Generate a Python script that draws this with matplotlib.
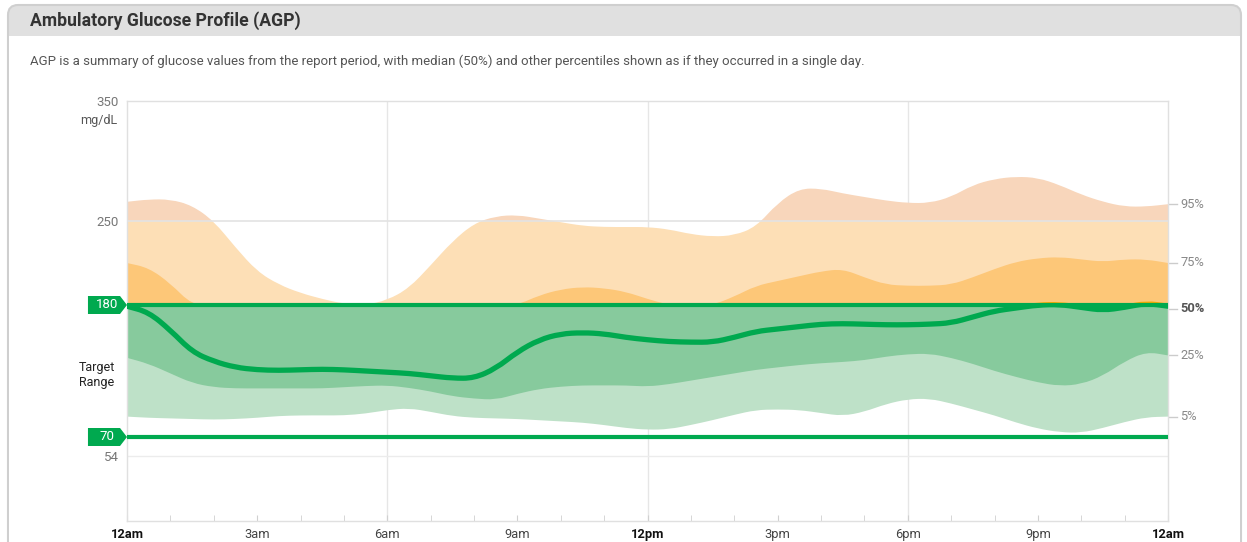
import numpy as np
import matplotlib.pyplot as plt
from matplotlib.patches import Rectangle, Polygon, FancyBboxPatch, PathPatch
from matplotlib.path import Path
from matplotlib.transforms import IdentityTransform

plt.rcParams['font.family'] = ['Roboto', 'DejaVu Sans']

# half-hour bins over one day (hours since midnight)
hours = np.arange(0, 24.5, 0.5)

p95 = [266, 268, 268, 263, 250, 228, 208, 197, 190, 185, 181, 180, 184, 194, 213, 233,
       248, 254, 255, 252, 249, 246, 245, 245, 245, 243, 239, 237, 238, 245, 265, 277,
       277, 273, 270, 267, 265, 265, 270, 280, 285, 287, 286, 280, 272, 266, 262, 262, 264]
p75 = [215, 211, 198, 180, 180, 180, 180, 180, 180, 180, 180, 180, 180, 180, 180, 180,
       180, 180, 180, 188, 193, 195, 194, 191, 185, 180, 180, 180, 187, 196, 200, 204,
       208, 210, 203, 197, 196, 196, 197, 203, 210, 216, 219, 220, 218, 216, 218, 218, 215]
p50 = [179, 174, 159, 141, 133, 128, 126, 125.5, 126, 126.5, 126, 125, 124, 123, 121, 119,
       119, 127, 141, 151, 156, 157, 156, 153, 151, 149.5, 149, 149, 153, 158, 160, 162,
       164, 164.5, 164, 163.5, 163.5, 164, 165, 170, 175, 177.5, 180, 180.5, 178, 175.5,
       178, 181.5, 179]
p25 = [136, 131, 123, 115, 111.5, 110.5, 110.5, 110.5, 110.5, 110.5, 111.5, 112.5, 113, 111,
       108, 104, 102, 101, 106, 110, 112, 113, 113, 113, 112, 114, 117, 120, 123, 126, 128,
       130, 131.5, 132.5, 134, 137, 139, 139.5, 136, 131, 125, 120, 115.5, 112.5, 114, 121,
       133, 141, 138]
p5 = [87, 86, 85.5, 85, 84.5, 85, 86, 87.5, 88, 88, 88, 89.5, 92.5, 94, 91, 87.5, 86, 85.5,
      85, 84, 83, 82, 80, 77.5, 76, 76.5, 80, 84, 88.5, 92.5, 93, 92.5, 90, 87.5, 91, 97.5,
      101.5, 102, 98, 93, 88, 82, 77, 74, 73.5, 77.5, 82.5, 86.5, 87]

target_low, target_high = 70, 180
very_high = 250
x_ticks = [0, 3, 6, 9, 12, 15, 18, 21, 24]
x_labels = ['12am', '3am', '6am', '9am', '12pm', '3pm', '6pm', '9pm', '12am']
pct_labels = ['95%', '75%', '50%', '25%', '5%']

GREEN = '#00a94f'
W, H = 1247, 542


def smooth(x, y):
    """Quadratic Bezier through segment midpoints, data points as control points."""
    pts = np.column_stack([x, y])
    mids = (pts[:-1] + pts[1:]) / 2
    verts = [pts[0], mids[0]]
    codes = [Path.MOVETO, Path.LINETO]
    for i in range(1, len(pts) - 1):
        verts += [pts[i], mids[i]]
        codes += [Path.CURVE3, Path.CURVE3]
    verts.append(pts[-1])
    codes.append(Path.LINETO)
    return verts, codes


def band_path(lower, upper):
    uv, uc = smooth(hours, upper)
    lv, lc = smooth(hours[::-1], lower[::-1])
    lc[0] = Path.LINETO
    return Path(uv + lv + [uv[0]], uc + lc + [Path.CLOSEPOLY])


fig = plt.figure(figsize=(W / 100, H / 100), dpi=100)
fig.patch.set_facecolor('white')

# card with grey header
card = FancyBboxPatch((8, -30), 1233, 567, boxstyle='round,pad=0,rounding_size=10',
                      transform=IdentityTransform(), facecolor='#e0e0e0',
                      edgecolor='#cfcfcf', lw=1.5, zorder=-2)
body = Rectangle((9, -30), 1231, 536, transform=IdentityTransform(),
                 facecolor='white', edgecolor='none', zorder=-1)
fig.add_artist(card)
fig.add_artist(body)
fig.text(30 / W, 1 - 21 / H, 'Ambulatory Glucose Profile (AGP)', fontsize=12.7,
         fontweight='bold', color='#333333', va='center')
fig.text(30 / W, 1 - 61 / H,
         'AGP is a summary of glucose values from the report period, with median (50%) '
         'and other percentiles shown as if they occurred in a single day.',
         fontsize=9.5, color='#555555', va='center')

ax = fig.add_axes([127 / W, 21 / H, 1041 / W, 420 / H])
ax.set_xlim(0, 24)
ax.set_ylim(0, 350)
for s in ax.spines.values():
    s.set_color('#e0e0e0')
    s.set_linewidth(1)


def band(lower, upper, lo, hi, color):
    patch = PathPatch(band_path(np.asarray(lower, float), np.asarray(upper, float)),
                      facecolor=color, edgecolor='none', zorder=2)
    ax.add_patch(patch)
    patch.set_clip_path(Rectangle((0, lo), 24, hi - lo, transform=ax.transData))


band(p5, p95, 0, target_high, '#bee1c8')
band(p5, p95, target_high, very_high, '#fddfb6')
band(p5, p95, very_high, 350, '#f8d6bb')
band(p25, p75, 0, target_high, '#87ca9d')
band(p25, p75, target_high, 350, '#fdc778')

for v in (6, 12, 18):
    ax.axvline(v, color='#e6e6e6', lw=1, zorder=1)
ax.axhline(very_high, color='#e3e3e3', lw=1.2, zorder=3)
ax.axhline(54, color='#ececec', lw=1, zorder=1)

mv, mc = smooth(hours, np.asarray(p50, float))
for color, lo, hi in ((GREEN, 0, target_high), ('#f2a900', target_high, 350)):
    med = PathPatch(Path(mv, mc), facecolor='none', edgecolor=color, lw=3.8,
                    capstyle='round', joinstyle='round', zorder=4)
    ax.add_patch(med)
    med.set_clip_path(Rectangle((0, lo), 24, hi - lo, transform=ax.transData))

ytr = ax.get_yaxis_transform()
for v in (target_high, target_low):
    ax.axhline(v, color=GREEN, lw=3, zorder=5)
    ax.add_patch(Polygon([(-0.0375, v - 7.5), (-0.0067, v - 7.5), (0, v),
                          (-0.0067, v + 7.5), (-0.0375, v + 7.5)],
                         closed=True, transform=ytr, facecolor=GREEN,
                         edgecolor='none', clip_on=False, zorder=6))
    ax.text(-0.0195, v, str(v), transform=ytr, color='white', fontsize=9.5,
            ha='center', va='center', zorder=7)

ax.text(-0.0288, 121.7, 'Target\nRange', transform=ytr, ha='center', va='center',
        fontsize=9, color='#222222', linespacing=1.2)

ax.set_yticks([54, 250, 350])
ax.set_yticklabels(['54', '250', '350'])
ax.tick_params(axis='y', length=0, pad=6, labelsize=9.5, labelcolor='#777777')
ax.text(-0.009, 334, 'mg/dL', transform=ytr, ha='right', va='center',
        fontsize=9, color='#555555')

ax.set_xticks(x_ticks)
ax.set_xticklabels(x_labels)
ax.set_xticks(range(25), minor=True)
ax.tick_params(axis='x', which='both', direction='in', length=4, color='#d0d0d0',
               pad=5, labelsize=9.3, labelcolor='#444444')
for lab in ax.get_xticklabels():
    if lab.get_text() in ('12am', '12pm'):
        lab.set_fontweight('bold')
        lab.set_color('#111111')

ends = [p95[-1], p75[-1], p50[-1] - 2, p25[-1], p5[-1]]
for lab, v in zip(pct_labels, ends):
    ax.plot([1.001, 1.009], [v, v], transform=ytr, color='#cccccc', lw=1, clip_on=False)
    ax.text(1.012, v, lab, transform=ytr, va='center', fontsize=9.3,
            color='#555555' if lab == '50%' else '#888888',
            fontweight='bold' if lab == '50%' else 'normal')

fig.savefig('out.png', dpi=100)
